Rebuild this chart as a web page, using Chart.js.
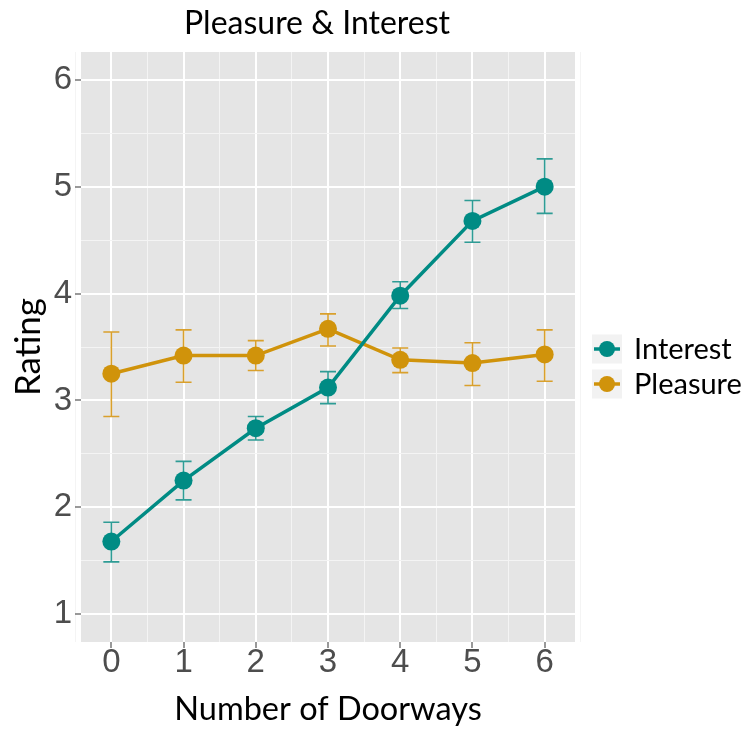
<!DOCTYPE html>
<html>
<head>
<meta charset="utf-8">
<script src="https://cdn.jsdelivr.net/npm/chart.js@4"></script>
<style>
  html, body { margin: 0; padding: 0; background: #fff; }
  #chart { display: block; }
</style>
</head>
<body>
<canvas id="chart" width="745" height="729"></canvas>
<script>
// Data
const doorways = [0, 1, 2, 3, 4, 5, 6];
const interestMean = [1.68, 2.25, 2.74, 3.12, 3.98, 4.68, 5.00];
const interestLow  = [1.49, 2.07, 2.63, 2.97, 3.86, 4.48, 4.75];
const interestHigh = [1.86, 2.43, 2.85, 3.27, 4.11, 4.87, 5.26];
const pleasureMean = [3.25, 3.42, 3.42, 3.67, 3.38, 3.35, 3.43];
const pleasureLow  = [2.85, 3.17, 3.28, 3.51, 3.26, 3.14, 3.18];
const pleasureHigh = [3.64, 3.66, 3.56, 3.81, 3.49, 3.54, 3.66];
const xTicks = [-0.5, 0, 0.5, 1, 1.5, 2, 2.5, 3, 3.5, 4, 4.5, 5, 5.5, 6, 6.5];
const yTicks = [1, 1.5, 2, 2.5, 3, 3.5, 4, 4.5, 5, 5.5, 6];

const TEAL = '#008B84', GOLD = '#D0930B';
const TEAL_BAR = '#2E9C95', GOLD_BAR = '#D9A02C';
const isMajor = v => Math.abs(v - Math.round(v)) < 1e-6;

// Panel background
const panelBg = {
  id: 'panelBg',
  beforeDraw(chart) {
    const { ctx, chartArea: a } = chart;
    ctx.save();
    ctx.fillStyle = '#E5E5E5';
    ctx.fillRect(a.left, a.top, a.right - a.left, a.bottom - a.top);
    ctx.restore();
  }
};

// Error bars
const errorBars = {
  id: 'errorBars',
  beforeDatasetsDraw(chart) {
    const { ctx } = chart;
    const xs = chart.scales.x, ys = chart.scales.y;
    chart.data.datasets.forEach(ds => {
      ctx.save();
      ctx.strokeStyle = ds.barColor;
      ctx.lineWidth = 1.6;
      ds.data.forEach((p, i) => {
        const x = xs.getPixelForValue(p.x);
        const yl = ys.getPixelForValue(ds.low[i]);
        const yh = ys.getPixelForValue(ds.high[i]);
        ctx.beginPath();
        ctx.moveTo(x, yl); ctx.lineTo(x, yh);
        ctx.moveTo(x - 8, yl); ctx.lineTo(x + 8, yl);
        ctx.moveTo(x - 8, yh); ctx.lineTo(x + 8, yh);
        ctx.stroke();
      });
      ctx.restore();
    });
  }
};

// Title and legend
const annotations = {
  id: 'annotations',
  afterDraw(chart) {
    const { ctx } = chart;
    ctx.save();
    ctx.fillStyle = '#000';
    ctx.textAlign = 'center';
    ctx.textBaseline = 'alphabetic';
    ctx.font = '32px Lato';
    ctx.fillText('Pleasure & Interest', 317, 34);

    // legend
    const rows = [['Interest', TEAL, 349], ['Pleasure', GOLD, 384]];
    rows.forEach(([label, color, cy]) => {
      ctx.fillStyle = '#F2F2F2';
      ctx.fillRect(592, cy - 14.5, 30, 29);
      ctx.strokeStyle = color;
      ctx.lineWidth = 3.5;
      ctx.beginPath();
      ctx.moveTo(594, cy); ctx.lineTo(620, cy);
      ctx.stroke();
      ctx.fillStyle = color;
      ctx.beginPath();
      ctx.arc(607, cy, 8, 0, Math.PI * 2);
      ctx.fill();
      ctx.fillStyle = '#000';
      ctx.textAlign = 'left';
      ctx.textBaseline = 'middle';
      ctx.font = '29px Lato';
      ctx.fillText(label, 634, cy + 1);
    });
    ctx.restore();
  }
};

function points(ys) {
  return doorways.map((x, i) => ({ x: x, y: ys[i] }));
}

new Chart(document.getElementById('chart'), {
  type: 'line',
  data: {
    datasets: [
      { label: 'Interest', data: points(interestMean), low: interestLow, high: interestHigh,
        borderColor: TEAL, backgroundColor: TEAL, barColor: TEAL_BAR,
        borderWidth: 3.5, pointRadius: 9, pointHoverRadius: 9, pointBorderWidth: 0 },
      { label: 'Pleasure', data: points(pleasureMean), low: pleasureLow, high: pleasureHigh,
        borderColor: GOLD, backgroundColor: GOLD, barColor: GOLD_BAR,
        borderWidth: 3.5, pointRadius: 9, pointHoverRadius: 9, pointBorderWidth: 0 }
    ]
  },
  options: {
    responsive: false,
    animation: false,
    layout: { padding: { left: 0, top: 52, right: 170, bottom: 0 } },
    plugins: { legend: { display: false }, title: { display: false }, tooltip: { enabled: false } },
    scales: {
      x: {
        type: 'linear', min: -0.42, max: 6.42,
        afterBuildTicks: s => { s.ticks = xTicks.map(v => ({ value: v })); },
        afterFit: s => { s.height = 87; },
        border: { display: false },
        grid: {
          color: c => isMajor(c.tick.value) ? '#FFFFFF' : '#F4F4F4',
          lineWidth: c => isMajor(c.tick.value) ? 2 : 1,
          tickColor: c => isMajor(c.tick.value) ? '#777777' : 'rgba(0,0,0,0)',
          tickWidth: 1.5, tickLength: 6, drawTicks: true
        },
        ticks: {
          autoSkip: false, maxRotation: 0, padding: -5,
          color: '#4D4D4D', font: { family: 'Liberation Sans', size: 33 },
          callback: v => isMajor(v) ? String(Math.round(v)) : ''
        },
        title: { display: true, text: 'Number of Doorways', color: '#000',
          font: { family: 'Lato', size: 32.5 }, padding: { top: 0, bottom: 0 } }
      },
      y: {
        type: 'linear', min: 0.74, max: 6.26,
        afterBuildTicks: s => { s.ticks = yTicks.map(v => ({ value: v })); },
        afterFit: s => { s.width = 81; },
        border: { display: false },
        grid: {
          color: c => isMajor(c.tick.value) ? '#FFFFFF' : '#F4F4F4',
          lineWidth: c => isMajor(c.tick.value) ? 2 : 1,
          tickColor: c => isMajor(c.tick.value) ? '#777777' : 'rgba(0,0,0,0)',
          tickWidth: 1.5, tickLength: 6, drawTicks: true
        },
        ticks: {
          autoSkip: false, padding: 3,
          color: '#4D4D4D', font: { family: 'Liberation Sans', size: 33 },
          callback: v => isMajor(v) ? String(Math.round(v)) : ''
        },
        title: { display: true, text: 'Rating', color: '#000',
          font: { family: 'Lato', size: 35 }, padding: { top: 8, bottom: 0 } }
      }
    }
  },
  plugins: [panelBg, errorBars, annotations]
});
</script>
</body>
</html>
